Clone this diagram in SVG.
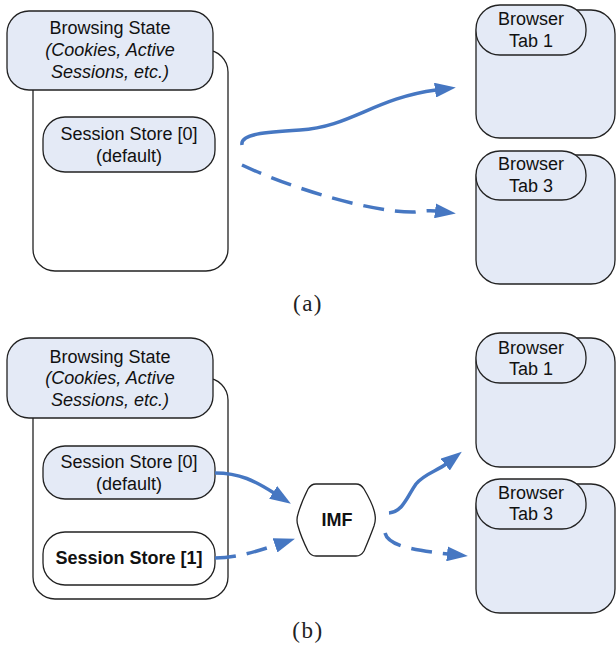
<svg xmlns="http://www.w3.org/2000/svg" width="616" height="647" viewBox="0 0 616 647">
<defs>
<style>
.box{fill:#E4EAF6;stroke:#222;stroke-width:1.3}
.wbox{fill:#fff;stroke:#222;stroke-width:1.3}
.t{font-family:"Liberation Sans",Arial,sans-serif;font-size:18px;fill:#111;text-anchor:middle}
.i{font-style:italic}
.b{font-weight:bold}
.cap{font-family:"Liberation Serif","Times New Roman",serif;font-size:23px;fill:#222;text-anchor:middle;letter-spacing:1.5px}
.c{fill:none;stroke:#4677C2;stroke-width:3.5}
.d{stroke-dasharray:21 11}
</style>
<marker id="ah" viewBox="0 0 21 15" refX="1" refY="7.5" markerWidth="21" markerHeight="15" markerUnits="userSpaceOnUse" orient="auto">
<path d="M0,0 L21,7.5 L0,15 z" fill="#4677C2"/>
</marker>
</defs>

<!-- Panel (a) -->
<g id="a-container"><rect class="wbox" x="33" y="50" width="195" height="221" rx="22"/></g>
<g id="a-browsing-state">
<rect class="box" x="7" y="11" width="206" height="79" rx="22"/>
<text class="t" x="110" y="34">Browsing State</text>
<text class="t i" x="110" y="56">(Cookies, Active</text>
<text class="t i" x="110" y="78">Sessions, etc.)</text>
</g>
<g id="a-session-store-0">
<rect class="box" x="43" y="117" width="172" height="55" rx="22"/>
<text class="t" x="129" y="140">Session Store [0]</text>
<text class="t" x="129" y="162">(default)</text>
</g>
<g id="a-tab1">
<rect class="box" x="476" y="10" width="139" height="128" rx="24"/>
<rect class="box" x="476" y="5" width="110" height="50" rx="24"/>
<text class="t" x="531" y="25">Browser</text>
<text class="t" x="531" y="47">Tab 1</text>
</g>
<g id="a-tab3">
<rect class="box" x="476" y="155" width="139" height="129" rx="24"/>
<rect class="box" x="476" y="151" width="110" height="49" rx="24"/>
<text class="t" x="531" y="170">Browser</text>
<text class="t" x="531" y="192">Tab 3</text>
</g>
<text class="cap" x="308" y="311">(a)</text>

<!-- Panel (b) -->
<g id="b-container"><rect class="wbox" x="33" y="378" width="195" height="221" rx="22"/></g>
<g id="b-browsing-state">
<rect class="box" x="7" y="338" width="206" height="80" rx="22"/>
<text class="t" x="110" y="363">Browsing State</text>
<text class="t i" x="110" y="384">(Cookies, Active</text>
<text class="t i" x="110" y="406">Sessions, etc.)</text>
</g>
<g id="b-session-store-0">
<rect class="box" x="43" y="446" width="172" height="53" rx="22"/>
<text class="t" x="129" y="468">Session Store [0]</text>
<text class="t" x="129" y="490">(default)</text>
</g>
<g id="b-session-store-1">
<rect class="wbox" x="43" y="532" width="172" height="53" rx="22"/>
<text class="t b" x="129" y="564">Session Store [1]</text>
</g>
<g id="b-imf">
<path class="wbox" d="M316,484 L356,484 Q361,484 364,489 Q374,506 375,515 Q376,520 374,526 Q370,537 364,551 Q361,556 356,556 L316,556 Q311,556 308,551 Q301,537 298,526 Q296,520 298,514 Q301,503 308,489 Q311,484 316,484 z"/>
<text class="t b" x="337" y="526">IMF</text>
</g>
<g id="b-tab1">
<rect class="box" x="476" y="338" width="139" height="129" rx="24"/>
<rect class="box" x="476" y="333" width="110" height="50" rx="24"/>
<text class="t" x="531" y="354">Browser</text>
<text class="t" x="531" y="375">Tab 1</text>
</g>
<g id="b-tab3">
<rect class="box" x="476" y="484" width="139" height="129" rx="24"/>
<rect class="box" x="476" y="479" width="110" height="50" rx="24"/>
<text class="t" x="531" y="499">Browser</text>
<text class="t" x="531" y="520">Tab 3</text>
</g>
<text class="cap" x="308" y="638">(b)</text>

<g id="connectors">
<path class="c" marker-end="url(#ah)" d="M242,145 C240,134 265,132 300,130 C350,127 375,98 436,90"/>
<path class="c d" marker-end="url(#ah)" d="M242,165 C295,190 375,213 415,212 Q428,210 436,211"/>
<path class="c" marker-end="url(#ah)" d="M215,473 C240,473 255,481 274,493"/>
<path class="c d" marker-end="url(#ah)" d="M215,558 C235,558 255,552 276,545"/>
<path class="c" marker-end="url(#ah)" d="M389,513 C403,512 408,495 416,484 C424,474 437,471 446,464"/>
<path class="c d" marker-end="url(#ah)" d="M385,533 C388,545 410,550 448,554"/>
</g>
</svg>
